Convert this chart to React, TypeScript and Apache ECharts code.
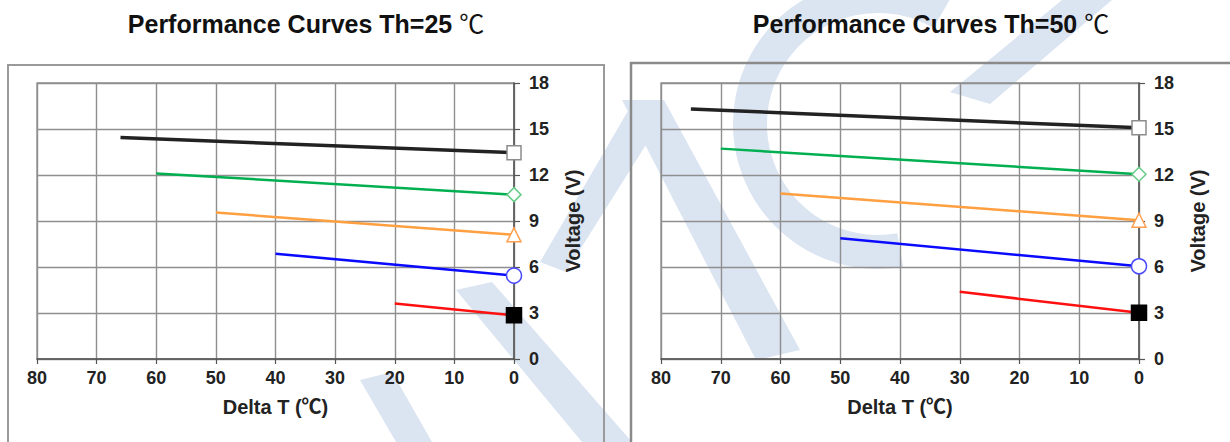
import React, { useEffect, useRef } from "react";
import * as echarts from "echarts";

// Delta T (°C) vs Voltage (V)
const xTicks = [0, 10, 20, 30, 40, 50, 60, 70, 80];
const yTicks = [0, 3, 6, 9, 12, 15, 18];

// Th = 25 °C
const th25Black = [[66, 14.45], [0, 13.45]];
const th25Green = [[60, 12.1], [0, 10.72]];
const th25Orange = [[50, 9.55], [0, 8.1]];
const th25Blue = [[40, 6.87], [0, 5.44]];
const th25Red = [[20, 3.62], [0, 2.85]];

// Th = 50 °C
const th50Black = [[75, 16.3], [0, 15.08]];
const th50Green = [[70, 13.72], [0, 12.05]];
const th50Orange = [[60, 10.8], [0, 9.05]];
const th50Blue = [[50, 7.87], [0, 6.05]];
const th50Red = [[30, 4.38], [0, 3.02]];

const titles = ["Performance Curves Th=25", "Performance Curves Th=50"];

const FONT = "'Liberation Sans', Arial, 'Noto Sans CJK SC', sans-serif";
const WM = "#dbe4f1";

const lineStyles = [
  { color: "#222222", width: 3.5, symbol: "rect", size: 14, fill: "#ffffff", border: "#8c8c8c" },
  { color: "#00b050", width: 2.5, symbol: "diamond", size: 14, fill: "#ffffff", border: "#66cc88" },
  { color: "#ff9f40", width: 2.5, symbol: "triangle", size: 14, fill: "#ffffff", border: "#ffa050" },
  { color: "#0a0aff", width: 2.5, symbol: "circle", size: 15, fill: "#ffffff", border: "#4a4aff" },
  { color: "#ff1010", width: 2.5, symbol: "rect", size: 15, fill: "#000000", border: "#000000" },
];

export default function App() {
  const ref = useRef<HTMLDivElement>(null);

  useEffect(() => {
    if (!ref.current) return;
    const chart = echarts.init(ref.current, null, { renderer: "svg" });

    const sets = [
      [th25Black, th25Green, th25Orange, th25Blue, th25Red],
      [th50Black, th50Green, th50Orange, th50Blue, th50Red],
    ];

    const grids = [
      { left: 37, top: 83, width: 477, height: 276, show: true, borderColor: "#8f8f8f", borderWidth: 1.3, backgroundColor: "transparent" },
      { left: 661, top: 83, width: 478, height: 276, show: true, borderColor: "#8f8f8f", borderWidth: 1.3, backgroundColor: "transparent" },
    ];

    const xAxes = grids.map((_, i) => ({
      gridIndex: i,
      type: "value",
      min: xTicks[0],
      max: xTicks[xTicks.length - 1],
      interval: 10,
      inverse: true,
      axisLine: { show: true, onZero: false, lineStyle: { color: "#555", width: 1.5 } },
      axisTick: { show: true, length: 5, lineStyle: { color: "#555", width: 1.2 } },
      axisLabel: { fontSize: 18, fontWeight: "bold", color: "#222", margin: 10, fontFamily: FONT },
      splitLine: { show: true, lineStyle: { color: "#8f8f8f", width: 1.4 } },
      name: "Delta T (℃)",
      nameLocation: "middle",
      nameGap: 38,
      nameTextStyle: { fontSize: 20, fontWeight: "bold", color: "#222", fontFamily: FONT },
    }));

    const yAxes = grids.map((_, i) => ({
      gridIndex: i,
      type: "value",
      position: "right",
      min: yTicks[0],
      max: yTicks[yTicks.length - 1],
      interval: 3,
      axisLine: { show: true, onZero: false, lineStyle: { color: "#555", width: 1.5 } },
      axisTick: { show: true, length: 6, lineStyle: { color: "#555", width: 1.2 } },
      axisLabel: { fontSize: 18, fontWeight: "bold", color: "#222", margin: 15, fontFamily: FONT },
      splitLine: { show: true, lineStyle: { color: "#8f8f8f", width: 1.4 } },
      name: "Voltage (V)",
      nameLocation: "middle",
      nameRotate: 90,
      nameGap: 49,
      nameTextStyle: { fontSize: 20, fontWeight: "bold", color: "#222", fontFamily: FONT },
    }));

    const series: any[] = [];
    sets.forEach((set, gi) => {
      set.forEach((data, si) => {
        const st = lineStyles[si];
        series.push({
          type: "line",
          xAxisIndex: gi,
          yAxisIndex: gi,
          data,
          symbol: "none",
          lineStyle: { color: st.color, width: st.width },
          z: 3,
        });
        series.push({
          type: "scatter",
          xAxisIndex: gi,
          yAxisIndex: gi,
          data: [data[data.length - 1]],
          symbol: st.symbol,
          symbolSize: st.size,
          itemStyle: { color: st.fill, borderColor: st.border, borderWidth: 1.5, opacity: 1 },
          z: 4,
        });
      });
    });

    const titleText = (t: string, x: number) => ({
      type: "text",
      x,
      y: 24,
      z: 10,
      style: {
        text: "{b|" + t + "}{r| ℃}",
        align: "center",
        verticalAlign: "middle",
        rich: {
          b: { fontSize: 25, fontWeight: "bold", fill: "#111", fontFamily: FONT },
          r: { fontSize: 25, fontWeight: "normal", fill: "#111", fontFamily: FONT },
        },
      },
    });

    const wmPoly = (pts: number[][]) => ({
      type: "polygon",
      shape: { points: pts },
      style: { fill: WM },
      z: -10,
      silent: true,
    });

    chart.setOption({
      animation: false,
      backgroundColor: "#ffffff",
      grid: grids,
      xAxis: xAxes,
      yAxis: yAxes,
      series,
      graphic: [
        // watermark (approximate)
        wmPoly([[360, 380], [392, 372], [432, 442], [396, 442]]),
        wmPoly([[540, 262], [566, 272], [664, 116], [632, 104]]),
        wmPoly([[456, 290], [492, 282], [632, 442], [582, 442]]),
        wmPoly([[622, 100], [664, 100], [800, 350], [756, 360]]),
        wmPoly([[950, 92], [990, 104], [1112, 0], [1062, 0]]),
        {
          type: "arc",
          shape: { cx: 878, cy: 124, r: 128, startAngle: (80 * Math.PI) / 180, endAngle: (300 * Math.PI) / 180, clockwise: true },
          style: { stroke: WM, lineWidth: 34, fill: "none" },
          z: -10,
          silent: true,
        },
        {
          type: "rect",
          shape: { x: 8, y: 65, width: 596, height: 420 },
          style: { fill: "none", stroke: "#9a9a9a", lineWidth: 2 },
          z: -1,
        },
        {
          type: "rect",
          shape: { x: 631, y: 63, width: 640, height: 420 },
          style: { fill: "none", stroke: "#8a8a8a", lineWidth: 2.5 },
          z: -1,
        },
        titleText(titles[0], 306),
        titleText(titles[1], 931),
      ],
    });

    return () => chart.dispose();
  }, []);

  return (
    <div
      ref={ref}
      style={{ position: "absolute", left: 0, top: 0, width: 1230, height: 442 }}
    />
  );
}
